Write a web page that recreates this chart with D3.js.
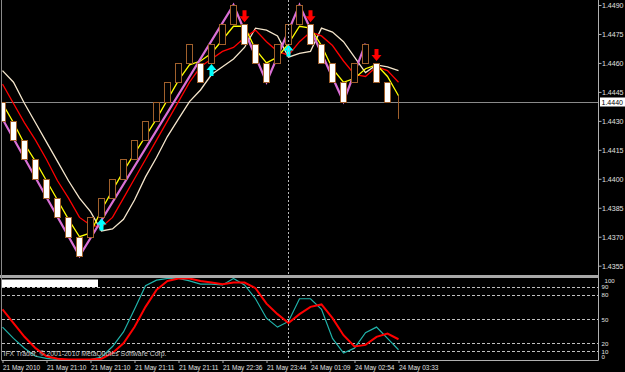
<!DOCTYPE html>
<html>
<head>
<meta charset="utf-8">
<script src="https://cdn.jsdelivr.net/npm/d3@7"></script>
<style>
html, body { margin: 0; padding: 0; background: #000; overflow: hidden; }
svg { display: block; }
text { font-family: "Liberation Sans", Arial, sans-serif; }
</style>
</head>
<body>
<div id="chart"></div>
<script>
// renko bricks, one per bar
const brickOpen = [1.4440, 1.4430, 1.4420, 1.4410, 1.4400, 1.4390, 1.4380, 1.4370,
	1.4370, 1.4380, 1.4390, 1.4400, 1.4410, 1.4420, 1.4430, 1.4440, 1.4450, 1.4460,
	1.4460, 1.4460, 1.4470, 1.4480, 1.4480, 1.4470, 1.4460, 1.4460, 1.4470, 1.4480,
	1.4480, 1.4470, 1.4460, 1.4450, 1.4450, 1.4460, 1.4460, 1.4450];
const brickClose = [1.4430, 1.4420, 1.4410, 1.4400, 1.4390, 1.4380, 1.4370, 1.4360,
	1.4380, 1.4390, 1.4400, 1.4410, 1.4420, 1.4430, 1.4440, 1.4450, 1.4460, 1.4470,
	1.4450, 1.4470, 1.4480, 1.4490, 1.4470, 1.4460, 1.4450, 1.4470, 1.4480, 1.4490,
	1.4470, 1.4460, 1.4450, 1.4440, 1.4460, 1.4470, 1.4450, 1.4440];
// bar still forming
const lastBarHigh = 1.4443;
const lastBarLow = 1.4431;
const currentPrice = 1.4440;

// moving averages
const fastMA = [1.4439, 1.4429, 1.4418, 1.4409, 1.4399, 1.4389, 1.4379, 1.4370, 1.4372, 1.4384,
	1.4394, 1.4404, 1.4413, 1.4422, 1.4431, 1.4441, 1.4451, 1.4459, 1.4461, 1.4465,
	1.4472, 1.4479, 1.4479, 1.4467, 1.4460, 1.4463, 1.4470, 1.4479, 1.4478, 1.4469,
	1.4457, 1.4450, 1.4452, 1.4457, 1.4459, 1.4453, 1.4443];
const midMA = [1.4449, 1.4439, 1.4429, 1.4420, 1.4410, 1.4399, 1.4390, 1.4380, 1.4376, 1.4375,
	1.4380, 1.4390, 1.4400, 1.4410, 1.4420, 1.4430, 1.4440, 1.4450, 1.4458, 1.4462,
	1.4466, 1.4468, 1.4473, 1.4477, 1.4471, 1.4466, 1.4464, 1.4471, 1.4476, 1.4474,
	1.4469, 1.4461, 1.4454, 1.4453, 1.4458, 1.4456, 1.4450];
const slowMA = [1.4456, 1.4450, 1.4439, 1.4429, 1.4419, 1.4409, 1.4399, 1.4390, 1.4383, 1.4373,
	1.4374, 1.4379, 1.4389, 1.4401, 1.4411, 1.4422, 1.4431, 1.4440, 1.4446, 1.4454,
	1.4458, 1.4462, 1.4468, 1.4478, 1.4477, 1.4474, 1.4463, 1.4465, 1.4466, 1.4478,
	1.4476, 1.4471, 1.4463, 1.4455, 1.4459, 1.4458, 1.4456];

// zigzag pivots
const zigzagBars = [0, 7, 21, 24, 27, 31, 33];
const zigzagPrices = [1.4431, 1.4360, 1.4490, 1.4450, 1.4490, 1.4440, 1.4470];

// signal arrows
const buyBars = [9, 19, 26];
const sellBars = [22, 28, 34];

// stochastic
const stochMain = [40, 26, 14, 4, 1.5, 0, 0, 0, 0, 3, 16, 34, 62, 91, 98, 100, 100, 97, 93, 93,
	92, 100, 92, 75, 51, 40, 47, 75, 75, 62, 26, 8, 14, 33, 40, 26, 12];
const stochSignal = [62, 45, 28, 14, 4, 1, 0, 0, 0, 1, 8, 20, 40, 65, 86, 97, 100, 100, 97, 95,
	93, 95, 95, 88, 69, 56, 45, 56, 65, 68, 51, 30, 16, 18, 28, 32, 25];
const stochLevels = [90, 80, 50, 20, 10];
const stochScaleLabels = [100, 90, 80, 50, 20, 10, 0];

const priceTicks = [1.4490, 1.4475, 1.4460, 1.4445, 1.4430, 1.4415, 1.4400, 1.4385, 1.4370, 1.4355];
const timeTickBars = [0, 4, 8, 12, 16, 20, 24, 28, 32, 36];
const timeLabels = ["21 May 2010", "21 May 21:10", "21 May 21:10", "21 May 21:11", "21 May 21:11",
	"21 May 22:36", "21 May 23:44", "24 May 01:09", "24 May 02:54", "24 May 03:33"];
const daySplitBar = 26;

const width = 625;
const height = 372;
const axisX = 598.5;
const mainBottom = 275;
const subTop = 278;
const subBottom = 360;

const svg = d3.select("#chart")
	.append("svg")
	.attr("width", width)
	.attr("height", height);

svg.append("rect")
	.attr("width", width)
	.attr("height", height)
	.attr("fill", "#000");

const defs = svg.append("defs");
defs.append("clipPath").attr("id", "clip-main")
	.append("rect").attr("x", 2).attr("y", 0).attr("width", axisX - 2).attr("height", mainBottom);
defs.append("clipPath").attr("id", "clip-sub")
	.append("rect").attr("x", 2).attr("y", subTop).attr("width", axisX - 2).attr("height", subBottom - subTop);

const x = d3.scaleLinear().domain([0, 36]).range([2.5, 398.5]);
const y = d3.scaleLinear().domain([1.4355, 1.4490]).range([265.7, 5]);
const ys = d3.scaleLinear().domain([0, 100]).range([359.5, 278.5]);

const main = svg.append("g").attr("clip-path", "url(#clip-main)");
const sub = svg.append("g").attr("clip-path", "url(#clip-sub)");

// current price line
main.append("line")
	.attr("x1", 2).attr("x2", axisX)
	.attr("y1", Math.round(y(currentPrice)) + 0.5)
	.attr("y2", Math.round(y(currentPrice)) + 0.5)
	.attr("stroke", "#8a8a8a");

// day separator
svg.append("line")
	.attr("x1", x(daySplitBar)).attr("x2", x(daySplitBar))
	.attr("y1", 0).attr("y2", subBottom)
	.attr("stroke", "#b8b8b8")
	.attr("stroke-dasharray", "2,2");

const line = d3.line()
	.x((d, i) => x(i))
	.y(d => y(d));

main.append("path").datum(slowMA)
	.attr("d", line).attr("fill", "none")
	.attr("stroke", "#f5e6cc").attr("stroke-width", 1.3);
main.append("path").datum(midMA)
	.attr("d", line).attr("fill", "none")
	.attr("stroke", "#ff0000").attr("stroke-width", 1.3);
main.append("path").datum(fastMA)
	.attr("d", line).attr("fill", "none")
	.attr("stroke", "#ffff00").attr("stroke-width", 1.3);

const zigzag = zigzagBars.map((b, i) => [x(b), y(zigzagPrices[i])]);
main.append("path")
	.attr("d", d3.line()(zigzag))
	.attr("fill", "none")
	.attr("stroke", "#da70d6")
	.attr("stroke-width", 2.2);

// bricks drawn in front of the indicators
const bricks = brickOpen.map((o, i) => ({ i: i, open: o, close: brickClose[i] }));
main.selectAll(".brick")
	.data(bricks)
	.enter().append("rect")
	.attr("class", "brick")
	.attr("x", d => x(d.i) - 3)
	.attr("y", d => Math.round(y(Math.max(d.open, d.close))) + 0.5)
	.attr("width", 6)
	.attr("height", d => Math.round(y(Math.min(d.open, d.close))) - Math.round(y(Math.max(d.open, d.close))))
	.attr("fill", d => d.close < d.open ? "#ffffff" : "#000000")
	.attr("stroke", "#a0602c")
	.attr("stroke-width", 1);

main.append("line")
	.attr("x1", x(36)).attr("x2", x(36))
	.attr("y1", y(lastBarHigh)).attr("y2", y(lastBarLow))
	.attr("stroke", "#a0602c");

// arrows
function upArrow(cx, tip) {
	return `M${cx},${tip} L${cx + 5},${tip + 6} L${cx + 2},${tip + 6} L${cx + 2},${tip + 12} ` +
		`L${cx - 2},${tip + 12} L${cx - 2},${tip + 6} L${cx - 5},${tip + 6} Z`;
}
function downArrow(cx, tip) {
	return `M${cx},${tip} L${cx + 5},${tip - 6} L${cx + 2},${tip - 6} L${cx + 2},${tip - 12} ` +
		`L${cx - 2},${tip - 12} L${cx - 2},${tip - 6} L${cx - 5},${tip - 6} Z`;
}

main.selectAll(".buy")
	.data(buyBars)
	.enter().append("path")
	.attr("class", "buy")
	.attr("d", b => upArrow(x(b), y(Math.min(brickOpen[b], brickClose[b])) + 1))
	.attr("fill", "#00ffff");

main.selectAll(".sell")
	.data(sellBars)
	.enter().append("path")
	.attr("class", "sell")
	.attr("d", b => downArrow(x(b), y(Math.max(brickOpen[b], brickClose[b])) - 2))
	.attr("fill", "#ff0000");

// window frames
svg.append("rect")
	.attr("x", 0).attr("y", 275).attr("width", axisX + 0.5).attr("height", 3)
	.attr("fill", "#a8a8a8");
svg.append("line")
	.attr("x1", 1.5).attr("x2", 1.5).attr("y1", 0).attr("y2", subBottom)
	.attr("stroke", "#8a8a8a");
svg.append("line")
	.attr("x1", axisX).attr("x2", axisX).attr("y1", 0).attr("y2", subBottom + 0.5)
	.attr("stroke", "#b0b0b0");
svg.append("line")
	.attr("x1", 1.5).attr("x2", axisX).attr("y1", subBottom + 0.5).attr("y2", subBottom + 0.5)
	.attr("stroke", "#b0b0b0");

// stochastic window
sub.selectAll(".level")
	.data(stochLevels)
	.enter().append("line")
	.attr("class", "level")
	.attr("x1", 2).attr("x2", axisX)
	.attr("y1", d => Math.round(ys(d)) + 0.5)
	.attr("y2", d => Math.round(ys(d)) + 0.5)
	.attr("stroke", "#c0c0c0")
	.attr("stroke-dasharray", "3,2");

const stochLine = d3.line()
	.x((d, i) => x(i))
	.y(d => ys(d));

sub.append("path").datum(stochMain)
	.attr("d", stochLine).attr("fill", "none")
	.attr("stroke", "#20b2aa").attr("stroke-width", 1.2);
sub.append("path").datum(stochSignal)
	.attr("d", stochLine).attr("fill", "none")
	.attr("stroke", "#ff0000").attr("stroke-width", 2);

sub.append("rect")
	.attr("x", 0).attr("y", 279.5).attr("width", 98).attr("height", 7.5)
	.attr("fill", "#ffffff");

sub.append("text")
	.attr("x", 3.5).attr("y", 356)
	.attr("font-size", 6.5)
	.attr("fill", "#c8c8c8")
	.attr("textLength", 163)
	.attr("lengthAdjust", "spacingAndGlyphs")
	.text("IFX Trader, © 2001-2010 MetaQuotes Software Corp.");

// price scale
const priceAxis = svg.append("g")
	.attr("transform", `translate(${axisX},0)`)
	.call(d3.axisRight(y).tickValues(priceTicks).tickSize(3).tickFormat(d3.format(".4f")));
priceAxis.select(".domain").remove();
priceAxis.selectAll(".tick line").attr("stroke", "#b0b0b0");
priceAxis.selectAll(".tick text")
	.attr("x", 3.5)
	.attr("fill", "#e0e0e0")
	.attr("font-size", 7.6)
	.attr("textLength", 21.5)
	.attr("lengthAdjust", "spacingAndGlyphs");

const priceY = Math.round(y(currentPrice));
svg.append("rect")
	.attr("x", 600).attr("y", priceY - 4.5).attr("width", 25).attr("height", 9)
	.attr("fill", "#ffffff");
svg.append("text")
	.attr("x", 601.5).attr("y", priceY + 3)
	.attr("font-size", 7.6)
	.attr("fill", "#000")
	.attr("textLength", 21.5)
	.attr("lengthAdjust", "spacingAndGlyphs")
	.text(d3.format(".4f")(currentPrice));

// stochastic scale; the crowded labels at both ends are nudged apart
const labelBaseline = { 100: 283.3, 90: 289.2, 10: 353.6, 0: 359.2 };
svg.selectAll(".slabel")
	.data(stochScaleLabels)
	.enter().append("text")
	.attr("class", "slabel")
	.attr("x", d => d === 100 ? 604.5 : 601.5)
	.attr("y", d => labelBaseline[d] !== undefined ? labelBaseline[d] : ys(d) + 2.5)
	.attr("font-size", 6.2)
	.attr("fill", "#e0e0e0")
	.attr("textLength", d => String(d).length * 3.4)
	.attr("lengthAdjust", "spacingAndGlyphs")
	.text(d => d);

// time scale
const timeAxis = svg.append("g")
	.attr("transform", `translate(0,${subBottom})`)
	.call(d3.axisBottom(x).tickValues(timeTickBars).tickSize(3).tickFormat((d, i) => timeLabels[i]));
timeAxis.select(".domain").remove();
timeAxis.selectAll(".tick line").attr("stroke", "#b0b0b0");
timeAxis.selectAll(".tick text")
	.attr("text-anchor", "start")
	.attr("x", 0)
	.attr("y", 10)
	.attr("dy", 0)
	.attr("fill", "#e0e0e0")
	.attr("font-size", 7.2)
	.attr("textLength", (d, i) => timeLabels[i].length === 11 ? 37 : 39.5)
	.attr("lengthAdjust", "spacingAndGlyphs");
</script>
</body>
</html>
